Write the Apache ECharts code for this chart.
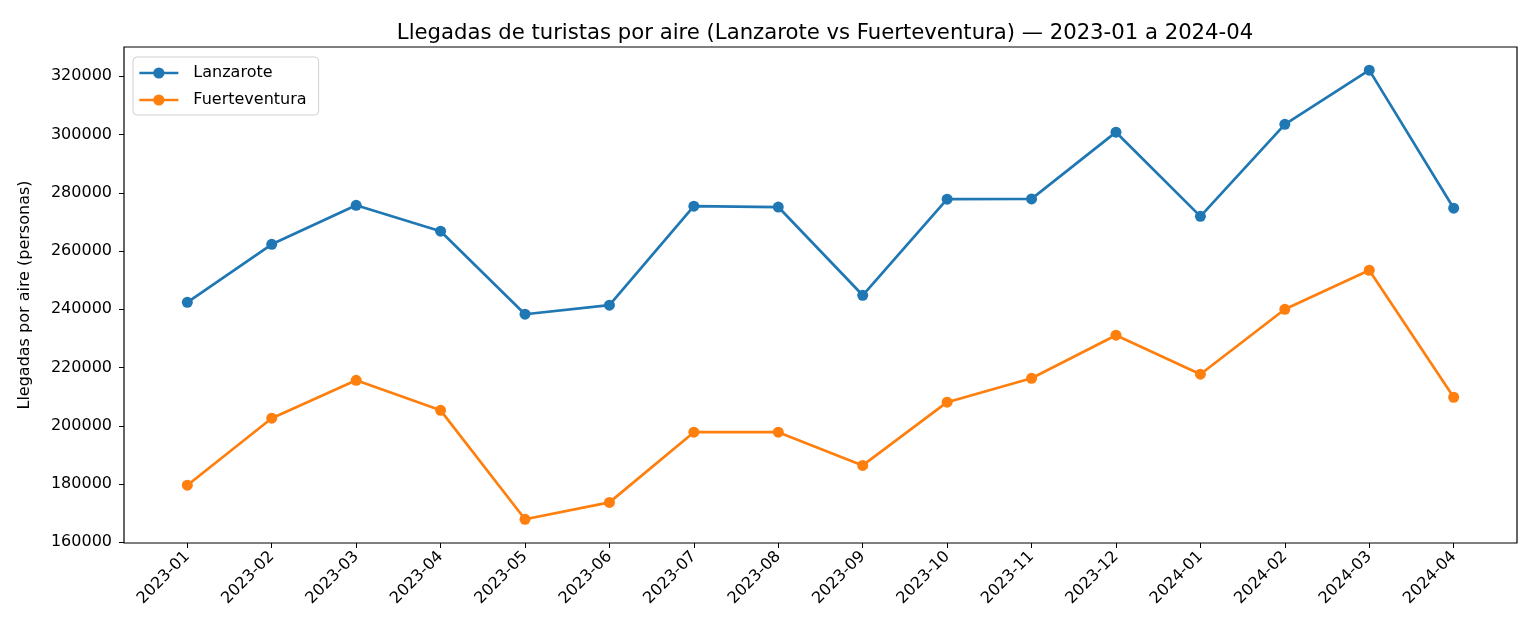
<!DOCTYPE html>
<html>
<head>
<meta charset="utf-8">
<script src="https://cdn.jsdelivr.net/npm/echarts@6/dist/echarts.min.js"></script>
<style>
  html, body { margin: 0; padding: 0; background: #fff; }
  #main { width: 1536px; height: 640px; }
</style>
</head>
<body>
<div id="main"></div>
<script>
// months on the x axis
const months = [
  "2023-01", "2023-02", "2023-03", "2023-04", "2023-05", "2023-06",
  "2023-07", "2023-08", "2023-09", "2023-10", "2023-11", "2023-12",
  "2024-01", "2024-02", "2024-03", "2024-04"
];
const lanzarote = [
  242400, 262300, 275700, 266800, 238300, 241400, 275400, 275100,
  244800, 277800, 277900, 300800, 271900, 303500, 322100, 274700
];
const fuerteventura = [
  179600, 202600, 215600, 205300, 167900, 173700, 197800, 197800,
  186400, 208100, 216300, 231100, 217700, 240000, 253400, 209800
];
const yTicks = [160000, 180000, 200000, 220000, 240000, 260000, 280000, 300000, 320000];

const font = "DejaVu Sans";
const xIdx = months.map((m, i) => i);

function pairs(vals) {
  return vals.map((v, i) => [i, v]);
}

var chart = echarts.init(document.getElementById("main"));
chart.setOption({
  animation: false,
  textStyle: { fontFamily: font },
  title: {
    text: "Llegadas de turistas por aire (Lanzarote vs Fuerteventura) — 2023-01 a 2024-04",
    left: 820,
    textAlign: "center",
    top: 18,
    textStyle: { fontFamily: font, fontSize: 21.2, fontWeight: "normal", color: "#000" }
  },
  legend: {
    left: 133,
    top: 57,
    orient: "vertical",
    itemWidth: 39,
    itemHeight: 14,
    itemGap: 11,
    padding: [8, 12, 7, 5],
    borderColor: "#d0d0d0",
    borderWidth: 1,
    borderRadius: 4,
    backgroundColor: "#fff",
    lineStyle: { width: 2.7 },
    textStyle: { fontFamily: font, fontSize: 16, color: "#000", padding: [0, 0, 0, 10] },
    data: ["Lanzarote", "Fuerteventura"]
  },
  grid: {
    left: 124,
    right: 19,
    top: 47,
    bottom: 97,
    show: true,
    borderColor: "#000",
    borderWidth: 1.2
  },
  xAxis: {
    type: "value",
    min: -0.75,
    max: 15.75,
    axisLine: { show: false, onZero: false },
    splitLine: { show: false },
    axisTick: {
      show: true,
      customValues: xIdx,
      length: 5,
      lineStyle: { color: "#000" }
    },
    axisLabel: {
      customValues: xIdx,
      rotate: 45,
      fontFamily: font,
      fontSize: 16,
      color: "#000",
      margin: 11,
      formatter: function (v) { return months[Math.round(v)]; }
    }
  },
  yAxis: {
    type: "value",
    min: 159760,
    max: 330040,
    name: "Llegadas por aire (personas)",
    nameLocation: "middle",
    nameGap: 91,
    nameTextStyle: { fontFamily: font, fontSize: 16, color: "#000" },
    axisLine: { show: false, onZero: false },
    splitLine: { show: false },
    axisTick: {
      show: true,
      customValues: yTicks,
      length: 5,
      lineStyle: { color: "#000" }
    },
    axisLabel: {
      customValues: yTicks,
      fontFamily: font,
      fontSize: 16,
      color: "#000",
      margin: 12,
      formatter: function (v) { return String(v); }
    }
  },
  series: [
    {
      name: "Lanzarote",
      type: "line",
      data: pairs(lanzarote),
      symbol: "circle",
      symbolSize: 11,
      color: "#1f77b4",
      lineStyle: { width: 2.7 }
    },
    {
      name: "Fuerteventura",
      type: "line",
      data: pairs(fuerteventura),
      symbol: "circle",
      symbolSize: 11,
      color: "#ff7f0e",
      lineStyle: { width: 2.7 }
    }
  ]
});
</script>
</body>
</html>
